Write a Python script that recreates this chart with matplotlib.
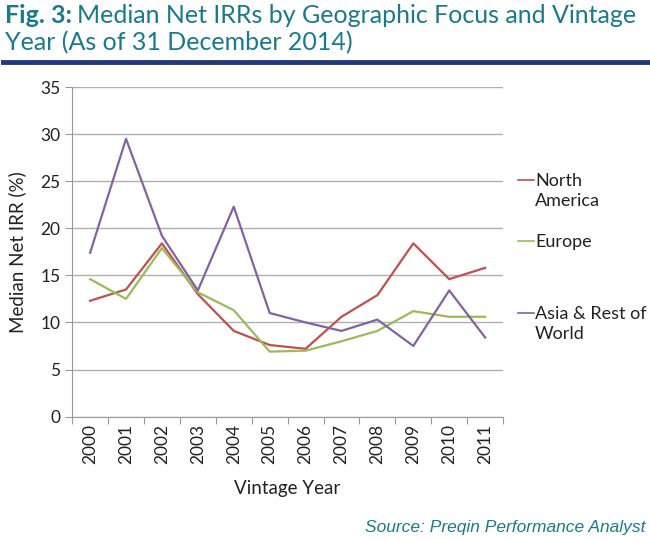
import numpy as np
import matplotlib.pyplot as plt
from matplotlib.lines import Line2D

years = ['2000', '2001', '2002', '2003', '2004', '2005',
         '2006', '2007', '2008', '2009', '2010', '2011']
north_america = [12.3, 13.5, 18.4, 13.0, 9.1, 7.6, 7.2, 10.6, 12.9, 18.4, 14.6, 15.8]
europe = [14.6, 12.5, 17.9, 13.2, 11.3, 6.9, 7.0, 8.0, 9.1, 11.2, 10.6, 10.6]
asia_row = [17.4, 29.5, 19.2, 13.4, 22.3, 11.0, 10.0, 9.1, 10.3, 7.5, 13.4, 8.4]

series_names = ['North\nAmerica', 'Europe', 'Asia & Rest of\nWorld']
colors = ['#c0504d', '#9bbb59', '#8064a2']

plt.rcParams['font.family'] = ['Lato', 'DejaVu Sans']

fig = plt.figure(figsize=(6.5, 5.41), dpi=100)
ax = fig.add_axes([0.111, 0.23, 0.663, 0.609])

x = np.arange(len(years))
for vals, c in zip([north_america, europe, asia_row], colors):
    ax.plot(x, vals, color=c, lw=1.6)

ax.set_xlim(-0.5, len(years) - 0.5)
ax.set_ylim(0, 35)
ax.set_yticks(range(0, 36, 5))
ax.set_xticks(np.arange(-0.5, len(years), 1), minor=False)
ax.set_xticklabels([])
ax.set_xticks(x, minor=True)
ax.set_xticklabels(years, minor=True, rotation=90, fontsize=12.5, color='#222222')
ax.tick_params(axis='x', which='major', length=5, color='#999999')
ax.tick_params(axis='x', which='minor', length=0, pad=5)
ax.tick_params(axis='y', length=5, color='#999999', labelsize=12.5, labelcolor='#222222')

ax.grid(axis='y', color='#b0b0b0', lw=1)
ax.set_axisbelow(True)
for s in ['top', 'right']:
    ax.spines[s].set_visible(False)
ax.spines['left'].set_color('#999999')
ax.spines['bottom'].set_color('#999999')

ax.set_ylabel('Median Net IRR (%)', fontsize=13.5, color='#222222', labelpad=10)
ax.set_xlabel('Vintage Year', fontsize=13.5, color='#222222', labelpad=12)

# legend drawn by hand to the right of the plot
leg_y = [0.665, 0.553, 0.42]
for name, c, yy in zip(series_names, colors, leg_y):
    fig.add_artist(Line2D([0.797, 0.822], [yy + 0.002, yy + 0.002],
                          color=c, lw=1.2, transform=fig.transFigure))
    for i, ln in enumerate(name.split('\n')):
        fig.text(0.823, yy - i * 0.037, ln, fontsize=13, color='#222222',
                 va='center', ha='left')

# title
teal = '#1a7a8c'
t1 = fig.text(0.008, 0.972, 'Fig. 3:', fontsize=18, color=teal,
              fontweight='bold', va='center', ha='left')
fig.canvas.draw()
bb = t1.get_window_extent().transformed(fig.transFigure.inverted())
fig.text(bb.x1 + 0.008, 0.972, 'Median Net IRRs by Geographic Focus and Vintage',
         fontsize=18, color=teal, va='center', ha='left')
fig.text(0.008, 0.922, 'Year (As of 31 December 2014)', fontsize=18,
         color=teal, va='center', ha='left')
fig.add_artist(Line2D([0.005, 0.997], [0.885, 0.885], color='#22397a',
                      lw=3.5, transform=fig.transFigure))

fig.text(0.993, 0.025, 'Source: Preqin Performance Analyst', fontsize=12.5,
         color=teal, style='italic', ha='right', va='center',
         family=['Liberation Sans', 'DejaVu Sans'])

fig.savefig('out.png', dpi=100)
